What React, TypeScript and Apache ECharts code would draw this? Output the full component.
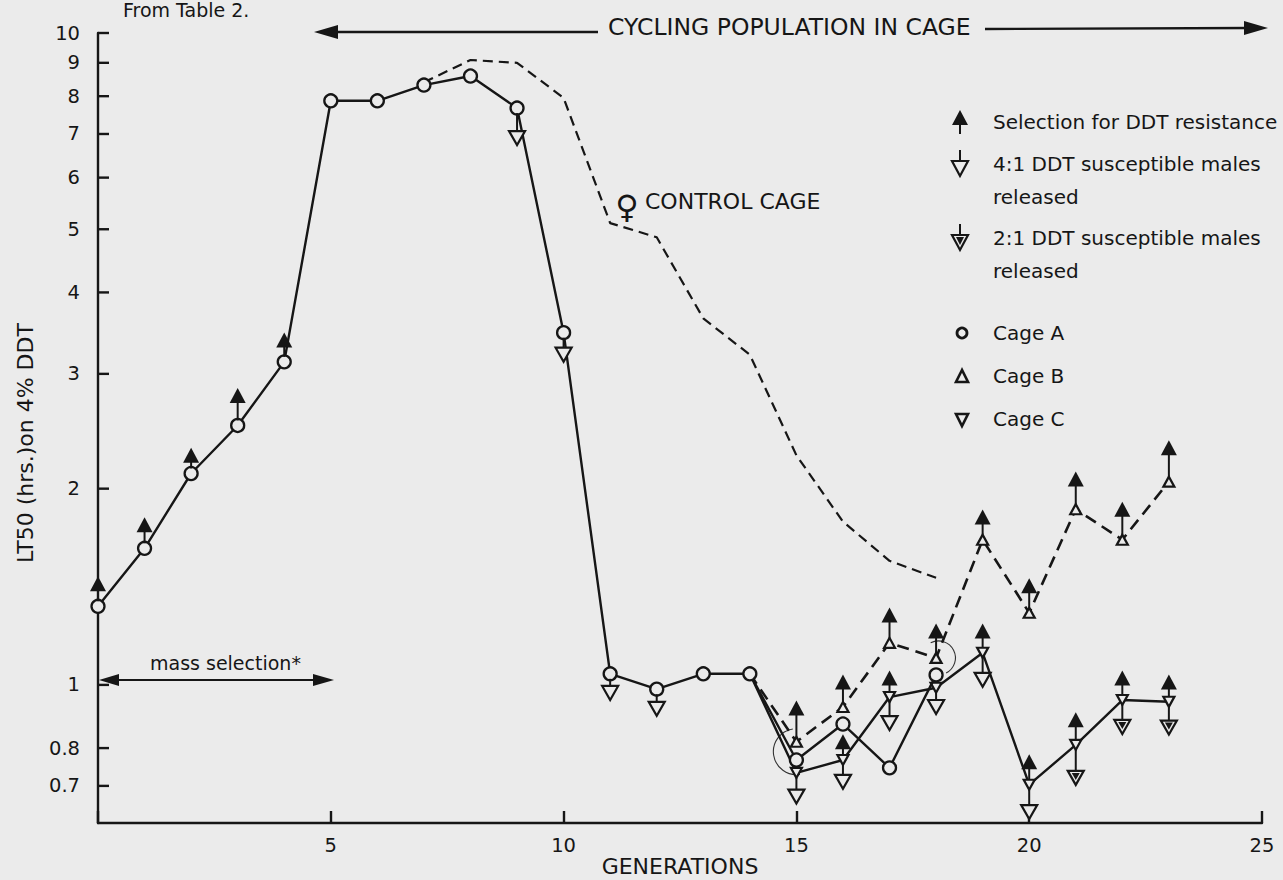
import React, { useEffect, useRef } from "react";
import * as echarts from "echarts";

// ---------- data ----------
const yTickValues = [0.7, 0.8, 1, 2, 3, 4, 5, 6, 7, 8, 9, 10];

const cageAGen = [0, 1, 2, 3, 4, 5, 6, 7, 8, 9, 10, 11, 12, 13, 14, 15, 16, 17, 18];
const cageAValues = [1.32, 1.62, 2.11, 2.5, 3.13, 7.87, 7.87, 8.32, 8.59, 7.67, 3.47, 1.04, 0.985, 1.04, 1.04, 0.767, 0.871, 0.746, 1.036];

const cageBGen = [14, 15, 16, 17, 18, 19, 20, 21, 22, 23];
const cageBValues = [1.04, 0.818, 0.925, 1.16, 1.1, 1.67, 1.29, 1.86, 1.67, 2.05];

const cageCGen = [14, 15, 16, 17, 18, 19, 20, 21, 22, 23];
const cageCValues = [1.04, 0.733, 0.767, 0.958, 0.99, 1.12, 0.703, 0.809, 0.948, 0.942];

const controlGen = [7, 8, 9, 10, 11, 12, 13, 14, 15, 16, 17, 18];
const controlValues = [8.4, 9.09, 9.0, 7.95, 5.11, 4.86, 3.65, 3.21, 2.25, 1.78, 1.55, 1.46];

// [generation, population value, marker value]
const selectionMarks = [
  [0, 1.32, 1.43], [1, 1.62, 1.76], [2, 2.11, 2.25], [3, 2.5, 2.78], [4, 3.13, 3.38],
  [15, 0.818, 0.922], [16, 0.925, 1.01], [17, 1.16, 1.28], [18, 1.1, 1.21], [19, 1.67, 1.81],
  [20, 1.29, 1.42], [21, 1.86, 2.07], [22, 1.67, 1.86], [23, 2.05, 2.31],
  [16, 0.767, 0.818], [17, 0.958, 1.025], [19, 1.12, 1.21], [20, 0.703, 0.762],
  [21, 0.809, 0.884], [22, 0.948, 1.025], [23, 0.942, 1.01],
];
const release41Marks = [
  [9, 7.67, 6.9], [10, 3.47, 3.21], [11, 1.04, 0.972], [12, 0.985, 0.919],
  [15, 0.733, 0.674], [16, 0.767, 0.71], [17, 0.958, 0.874], [18, 0.99, 0.925],
  [19, 1.12, 1.018], [20, 0.703, 0.638],
];
const release21Marks = [
  [21, 0.809, 0.72], [22, 0.948, 0.862], [23, 0.942, 0.86],
];
const noteArcs = [
  [15, 0.79],
  [18.05, 1.1],
];

const legendLabels = [
  "Selection for DDT resistance",
  "4:1 DDT susceptible males",
  "released",
  "2:1 DDT susceptible males",
  "released",
  "Cage A",
  "Cage B",
  "Cage C",
];

// ---------- styles ----------
const INK = "#161616";
const BG = "#ebebeb";
const FONT = "'DejaVu Sans', 'Noto Sans', sans-serif";
const LW = 2.4;

const pairs = (g: number[], v: number[], hideFirst = false) =>
  g.map((x, i) => (hideFirst && i === 0 ? { value: [x, v[i]], symbol: "none" } : [x, v[i]]));

function selectionItem(params: any, api: any) {
  const p0 = api.coord([api.value(0), api.value(1)]);
  const p1 = api.coord([api.value(0), api.value(2)]);
  const w = 16, h = 15;
  return {
    type: "group",
    children: [
      { type: "line", shape: { x1: p0[0], y1: p0[1] - 5, x2: p1[0], y2: p1[1] }, style: { stroke: INK, lineWidth: 2 } },
      {
        type: "polygon",
        shape: { points: [[p1[0], p1[1] - h / 2], [p1[0] - w / 2, p1[1] + h / 2], [p1[0] + w / 2, p1[1] + h / 2]] },
        style: { fill: INK },
      },
    ],
  };
}

function releaseItemFactory(inner: boolean) {
  return function (params: any, api: any) {
    const p0 = api.coord([api.value(0), api.value(1)]);
    const p1 = api.coord([api.value(0), api.value(2)]);
    const w = 16, h = 14;
    const children: any[] = [
      { type: "line", shape: { x1: p0[0], y1: p0[1] + 5, x2: p1[0], y2: p1[1] - h / 2 }, style: { stroke: INK, lineWidth: 2 } },
      {
        type: "polygon",
        shape: { points: [[p1[0] - w / 2, p1[1] - h / 2], [p1[0] + w / 2, p1[1] - h / 2], [p1[0], p1[1] + h / 2]] },
        style: { fill: BG, stroke: INK, lineWidth: 2.2 },
      },
    ];
    if (inner) {
      children.push({
        type: "polygon",
        shape: { points: [[p1[0] - 4, p1[1] - h / 2 + 2], [p1[0] + 4, p1[1] - h / 2 + 2], [p1[0], p1[1] + 2]] },
        style: { fill: INK },
      });
    }
    return { type: "group", children };
  };
}

function yTickItem(params: any, api: any) {
  const v = api.value(1);
  const p = api.coord([0, v]);
  return {
    type: "group",
    children: [
      { type: "line", shape: { x1: p[0], y1: p[1], x2: p[0] + 11, y2: p[1] }, style: { stroke: INK, lineWidth: LW } },
      {
        type: "text",
        x: p[0] - 18,
        y: p[1],
        style: { text: String(v), fontSize: 19.5, fontFamily: FONT, fill: INK, align: "right", verticalAlign: "middle" },
      },
    ],
  };
}

function arcItem(params: any, api: any) {
  const p = api.coord([api.value(0), api.value(1)]);
  const specs = [
    { r: 23, s: Math.PI * 0.45, e: Math.PI * 1.45 },
    { r: 17, s: -Math.PI * 0.65, e: Math.PI * 0.35 },
  ];
  const sp = specs[params.dataIndex];
  return {
    type: "arc",
    shape: { cx: p[0], cy: p[1], r: sp.r, startAngle: sp.s, endAngle: sp.e, clockwise: true },
    style: { stroke: "#333", lineWidth: 1.1, fill: null },
  };
}

function txt(text: string, x: number, y: number, fontSize: number, extra: any = {}) {
  return {
    type: "text",
    x,
    y,
    z: 10,
    ...extra,
    style: { text, fontSize, fontFamily: FONT, fill: INK, align: "left", verticalAlign: "middle", ...(extra.style || {}) },
  };
}

function buildGraphic() {
  const g: any[] = [];
  // header note
  g.push(txt("From Table 2.", 123, 10, 19));
  // top arrow
  g.push({ type: "polygon", shape: { points: [[314, 32], [338, 25], [338, 39]] }, style: { fill: INK } });
  g.push({ type: "line", shape: { x1: 336, y1: 32, x2: 598, y2: 32 }, style: { stroke: INK, lineWidth: LW } });
  g.push(txt("CYCLING POPULATION IN CAGE", 608, 27, 23.5));
  g.push({ type: "line", shape: { x1: 985, y1: 29, x2: 1250, y2: 28 }, style: { stroke: INK, lineWidth: LW } });
  g.push({ type: "polygon", shape: { points: [[1268, 28], [1244, 21], [1244, 35]] }, style: { fill: INK } });
  // mass selection
  g.push(txt("mass selection*", 150, 663, 19));
  g.push({ type: "line", shape: { x1: 112, y1: 680, x2: 320, y2: 680 }, style: { stroke: INK, lineWidth: 2 } });
  g.push({ type: "polygon", shape: { points: [[99, 680], [119, 674], [119, 686]] }, style: { fill: INK } });
  g.push({ type: "polygon", shape: { points: [[334, 680], [313, 674], [313, 686]] }, style: { fill: INK } });
  // control cage label
  g.push(txt("\u2640", 627, 207, 32, { style: { align: "center" } }));
  g.push(txt("CONTROL CAGE", 645, 201, 22));
  // axis titles
  g.push(txt("LT50 (hrs.)on 4% DDT", 25, 443, 22, { rotation: Math.PI / 2, style: { align: "center" } }));
  g.push(txt("GENERATIONS", 680, 866, 22, { style: { align: "center" } }));

  // legend
  const lx = 960;
  const tx = 993;
  const ly = [122, 164, 197, 238, 271, 333, 376, 419];
  legendLabels.forEach((t, i) => g.push(txt(t, tx, ly[i], 20)));
  // selection symbol
  g.push({ type: "polygon", shape: { points: [[lx, 110], [lx - 8, 125], [lx + 8, 125]] }, style: { fill: INK } });
  g.push({ type: "line", shape: { x1: lx, y1: 124, x2: lx, y2: 134 }, style: { stroke: INK, lineWidth: 2 } });
  // 4:1 symbol
  g.push({ type: "line", shape: { x1: lx, y1: 150, x2: lx, y2: 161 }, style: { stroke: INK, lineWidth: 2 } });
  g.push({ type: "polygon", shape: { points: [[lx - 8, 161], [lx + 8, 161], [lx, 176]] }, style: { fill: BG, stroke: INK, lineWidth: 2.2 } });
  // 2:1 symbol
  g.push({ type: "line", shape: { x1: lx, y1: 224, x2: lx, y2: 235 }, style: { stroke: INK, lineWidth: 2 } });
  g.push({ type: "polygon", shape: { points: [[lx - 8, 235], [lx + 8, 235], [lx, 250]] }, style: { fill: BG, stroke: INK, lineWidth: 2.2 } });
  g.push({ type: "polygon", shape: { points: [[lx - 4, 237], [lx + 4, 237], [lx, 245]] }, style: { fill: INK } });
  // cage A / B / C
  g.push({ type: "circle", shape: { cx: lx + 2, cy: 333, r: 5 }, style: { fill: BG, stroke: INK, lineWidth: 2.8 } });
  g.push({ type: "polygon", shape: { points: [[lx + 2, 370], [lx - 4, 382], [lx + 8, 382]] }, style: { fill: BG, stroke: INK, lineWidth: 2.6 } });
  g.push({ type: "polygon", shape: { points: [[lx - 4, 414], [lx + 8, 414], [lx + 2, 426]] }, style: { fill: BG, stroke: INK, lineWidth: 2.6 } });
  return g;
}

const downTri = "path://M0,0 L10,0 L5,9 Z";

export default function App() {
  const ref = useRef<HTMLDivElement>(null);
  useEffect(() => {
    if (!ref.current) return;
    const chart = echarts.init(ref.current, undefined, { renderer: "svg" });
    const option: any = {
      animation: false,
      backgroundColor: BG,
      grid: { left: 98, right: 21, top: 33, bottom: 57 },
      xAxis: {
        type: "value",
        min: 0,
        max: 25,
        interval: 5,
        axisLine: { onZero: false, lineStyle: { color: INK, width: LW } },
        axisTick: { inside: true, length: 12, lineStyle: { color: INK, width: LW } },
        axisLabel: {
          fontSize: 19.5,
          color: INK,
          fontFamily: FONT,
          margin: 12,
          formatter: (v: number) => (v === 0 ? "" : String(v)),
        },
        splitLine: { show: false },
      },
      yAxis: {
        type: "log",
        logBase: 10,
        min: 0.614,
        max: 10,
        axisLine: { show: true, onZero: false, lineStyle: { color: INK, width: LW } },
        axisTick: { show: false },
        axisLabel: { show: false },
        splitLine: { show: false },
        minorTick: { show: false },
      },
      graphic: buildGraphic(),
      series: [
        {
          name: "Control cage",
          type: "line",
          data: pairs(controlGen, controlValues),
          symbol: "none",
          lineStyle: { color: INK, width: 2.2, type: [10, 6] },
          z: 2,
        },
        {
          name: "Cage B",
          type: "line",
          data: pairs(cageBGen, cageBValues, true),
          symbol: "triangle",
          symbolSize: [11, 10],
          itemStyle: { color: BG, borderColor: INK, borderWidth: 2.2 },
          lineStyle: { color: INK, width: 2.6, type: [12, 7] },
          z: 3,
        },
        {
          name: "Cage C",
          type: "line",
          data: pairs(cageCGen, cageCValues, true),
          symbol: downTri,
          symbolSize: [11, 10],
          itemStyle: { color: BG, borderColor: INK, borderWidth: 2.2 },
          lineStyle: { color: INK, width: LW },
          z: 3,
        },
        {
          name: "Cage A",
          type: "line",
          data: pairs(cageAGen, cageAValues),
          symbol: "circle",
          symbolSize: 13,
          itemStyle: { color: BG, borderColor: INK, borderWidth: 2.3 },
          lineStyle: { color: INK, width: LW },
          z: 4,
        },
        {
          name: "Selection",
          type: "custom",
          data: selectionMarks,
          encode: { x: 0, y: 2 },
          renderItem: selectionItem,
          z: 5,
        },
        {
          name: "Release 4:1",
          type: "custom",
          data: release41Marks,
          encode: { x: 0, y: 2 },
          renderItem: releaseItemFactory(false),
          z: 5,
        },
        {
          name: "Release 2:1",
          type: "custom",
          data: release21Marks,
          encode: { x: 0, y: 2 },
          renderItem: releaseItemFactory(true),
          z: 5,
        },
        {
          name: "Notes",
          type: "custom",
          data: noteArcs,
          encode: { x: 0, y: 1 },
          renderItem: arcItem,
          z: 1,
        },
        {
          name: "Y ticks",
          type: "custom",
          data: yTickValues.map((v) => [0, v]),
          encode: { x: 0, y: 1 },
          renderItem: yTickItem,
          clip: false,
          z: 6,
        },
      ],
    };
    chart.setOption(option);
    return () => chart.dispose();
  }, []);
  return <div ref={ref} style={{ position: "fixed", left: 0, top: 0, width: 1283, height: 880 }} />;
}
